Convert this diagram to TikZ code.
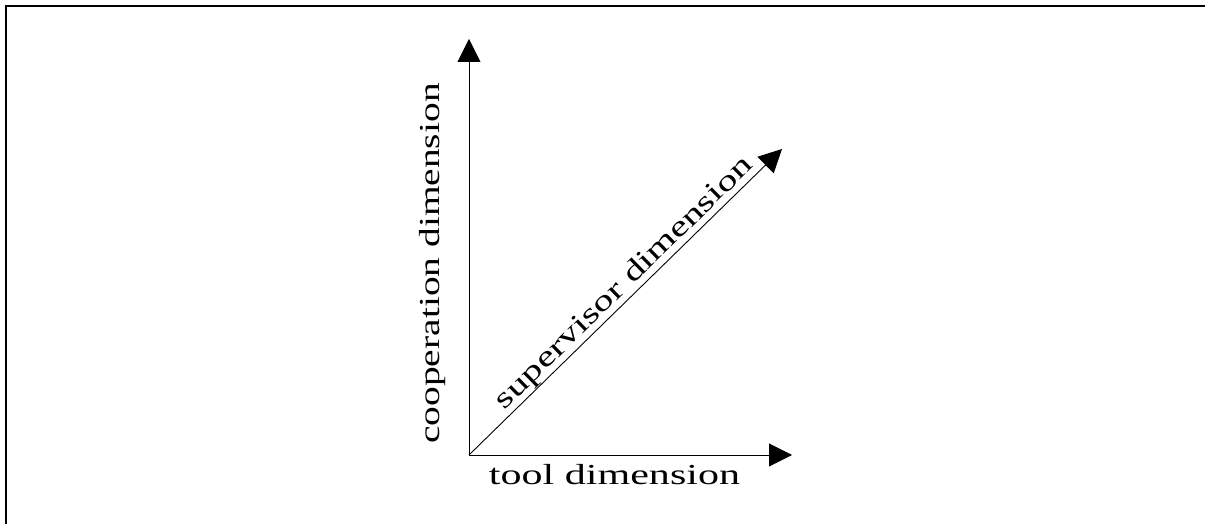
\documentclass[tikz,border=0pt]{standalone}
\usepackage{fontspec}
\setmainfont{Liberation Serif}
\usetikzlibrary{arrows.meta}
\begin{document}
\begin{tikzpicture}[x=1pt,y=1pt,
  axis/.style={line width=0.9pt,-{Triangle[length=23pt,width=23pt]}},
  lbl/.style={inner sep=0pt,font=\fontsize{29}{32}\selectfont,anchor=base}]
\clip (0,0) rectangle (1205,524);
\draw[line width=2pt] (6,-20) rectangle (1230,518);
\coordinate (o) at (469,69);
\coordinate (ytip) at (469,485);
\coordinate (xtip) at (792,69);
\coordinate (dtip) at (782,375);
\draw[axis] (o) -- (ytip);
\draw[axis] (o) -- (xtip);
\draw[axis] (o) -- (dtip);
\node[lbl] (tool) at (614.5,39) {\scalebox{1.45}[1]{tool dimension}};
\node[lbl,rotate=90] (coop) at (439,260.5) {\scalebox{1.36}[1]{cooperation dimension}};
\node[lbl,rotate=44.35] (sup) at (629.5,235.5) {\scalebox{1.4}[1]{supervisor dimension}};
\end{tikzpicture}
\end{document}
